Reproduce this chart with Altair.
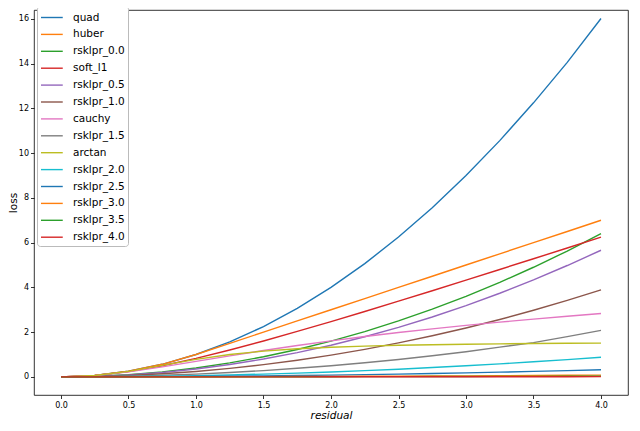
import altair as alt
import pandas as pd

residual = [0.0, 0.25, 0.5, 0.75, 1.0, 1.25, 1.5, 1.75, 2.0, 2.25, 2.5, 2.75, 3.0, 3.25, 3.5, 3.75, 4.0]

quad = [0.0, 0.062, 0.25, 0.562, 1.0, 1.562, 2.25, 3.062, 4.0, 5.062, 6.25, 7.562, 9.0, 10.56, 12.25, 14.06, 16.02]
huber = [0.0, 0.062, 0.25, 0.562, 1.0, 1.5, 2.0, 2.5, 3.0, 3.5, 4.0, 4.5, 5.0, 5.5, 6.0, 6.5, 7.0]
rsklpr_00 = [0.0, 0.025, 0.10, 0.225, 0.40, 0.625, 0.90, 1.225, 1.60, 2.025, 2.50, 3.025, 3.60, 4.225, 4.90, 5.625, 6.40]
soft_l1 = [0.0, 0.062, 0.236, 0.50, 0.828, 1.202, 1.606, 2.031, 2.472, 2.924, 3.385, 3.852, 4.325, 4.801, 5.280, 5.762, 6.246]
rsklpr_05 = [0.0, 0.022, 0.089, 0.199, 0.354, 0.553, 0.797, 1.084, 1.416, 1.792, 2.213, 2.677, 3.186, 3.739, 4.337, 4.978, 5.66]
rsklpr_10 = [0.0, 0.015, 0.061, 0.137, 0.243, 0.380, 0.547, 0.744, 0.972, 1.230, 1.519, 1.838, 2.187, 2.567, 2.977, 3.417, 3.888]
cauchy = [0.0, 0.061, 0.223, 0.446, 0.693, 0.941, 1.179, 1.402, 1.609, 1.802, 1.981, 2.147, 2.303, 2.448, 2.584, 2.712, 2.833]
rsklpr_15 = [0.0, 0.008, 0.031, 0.070, 0.125, 0.195, 0.281, 0.383, 0.50, 0.633, 0.78, 0.945, 1.125, 1.33, 1.53, 1.80, 2.08]
arctan = [0.0, 0.062, 0.245, 0.512, 0.785, 1.002, 1.153, 1.256, 1.326, 1.376, 1.412, 1.439, 1.460, 1.476, 1.489, 1.502, 1.508]
rsklpr_20 = [0.0, 0.003, 0.014, 0.031, 0.055, 0.086, 0.124, 0.168, 0.22, 0.278, 0.344, 0.416, 0.495, 0.581, 0.674, 0.773, 0.88]
rsklpr_25 = [0.0, 0.001, 0.005, 0.011, 0.02, 0.031, 0.045, 0.061, 0.08, 0.101, 0.125, 0.151, 0.18, 0.211, 0.245, 0.281, 0.32]
rsklpr_30 = [0.0, 0.0, 0.001, 0.003, 0.005, 0.008, 0.011, 0.015, 0.02, 0.025, 0.031, 0.038, 0.045, 0.053, 0.061, 0.07, 0.08]
rsklpr_35 = [0.0, 0.0, 0.0, 0.001, 0.002, 0.003, 0.004, 0.006, 0.008, 0.010, 0.012, 0.015, 0.018, 0.021, 0.024, 0.028, 0.032]
rsklpr_40 = [0.0, 0.0, 0.0, 0.0, 0.001, 0.001, 0.002, 0.002, 0.003, 0.004, 0.004, 0.005, 0.006, 0.007, 0.008, 0.009, 0.010]

names = ["quad", "huber", "rsklpr_0.0", "soft_l1", "rsklpr_0.5", "rsklpr_1.0", "cauchy",
         "rsklpr_1.5", "arctan", "rsklpr_2.0", "rsklpr_2.5", "rsklpr_3.0", "rsklpr_3.5", "rsklpr_4.0"]
series = [quad, huber, rsklpr_00, soft_l1, rsklpr_05, rsklpr_10, cauchy,
          rsklpr_15, arctan, rsklpr_20, rsklpr_25, rsklpr_30, rsklpr_35, rsklpr_40]
colors = ["#1f77b4", "#ff7f0e", "#2ca02c", "#d62728", "#9467bd", "#8c564b", "#e377c2",
          "#7f7f7f", "#bcbd22", "#17becf", "#1f77b4", "#ff7f0e", "#2ca02c", "#d62728"]
widths = [1.4, 1.4, 2.3, 1.4, 1.4, 1.4, 1.4, 1.4, 1.4, 1.4, 2.3, 1.4, 1.4, 2.3]

rows = []
for i, (n, vals) in enumerate(zip(names, series)):
    for xv, yv in zip(residual, vals):
        rows.append({"series": n, "idx": i, "residual": xv, "loss": yv})
df = pd.DataFrame(rows)

leg = alt.Legend(
    title=None, orient="none", legendX=3, legendY=-4,
    symbolType="M-1,0L1.9,0", symbolSize=225,
    labelFont="DejaVu Sans", labelFontSize=10.5, labelColor="black",
    strokeColor="#bbbbbb", cornerRadius=3, fillColor="white", padding=3,
    rowPadding=2.9, labelOffset=16,
)

chart = alt.Chart(df).mark_line(clip=True).encode(
    x=alt.X("residual:Q", scale=alt.Scale(domain=[-0.2, 4.2], nice=False, zero=False),
            axis=alt.Axis(title="residual", values=[0, 0.5, 1, 1.5, 2, 2.5, 3, 3.5, 4], format=".1f",
                          titleFontStyle="italic", titlePadding=1, labelPadding=3)),
    y=alt.Y("loss:Q", scale=alt.Scale(domain=[-0.81, 16.4], nice=False, zero=False),
            axis=alt.Axis(title="loss", values=list(range(0, 17, 2)), titlePadding=0, labelPadding=2)),
    color=alt.Color("series:N", scale=alt.Scale(domain=names, range=colors), legend=leg),
    strokeWidth=alt.StrokeWidth("series:N", scale=alt.Scale(domain=names, range=widths), legend=leg),
    detail="idx:O",
).properties(
    width=594, height=385,
    autosize=alt.AutoSizeParams(type="none"),
    padding={"left": 26, "top": 2, "right": 4, "bottom": 28},
).configure_view(
    stroke="black", strokeWidth=0.8
).configure_axis(
    grid=False, domain=False, tickColor="black", tickSize=3.5, tickWidth=0.8,
    labelFont="DejaVu Sans", labelFontSize=8, labelColor="black",
    titleFont="DejaVu Sans", titleFontSize=10.5, titleFontWeight="normal", titleColor="black",
)

chart.save("out.html", embed_options={"renderer": "svg", "actions": False})
